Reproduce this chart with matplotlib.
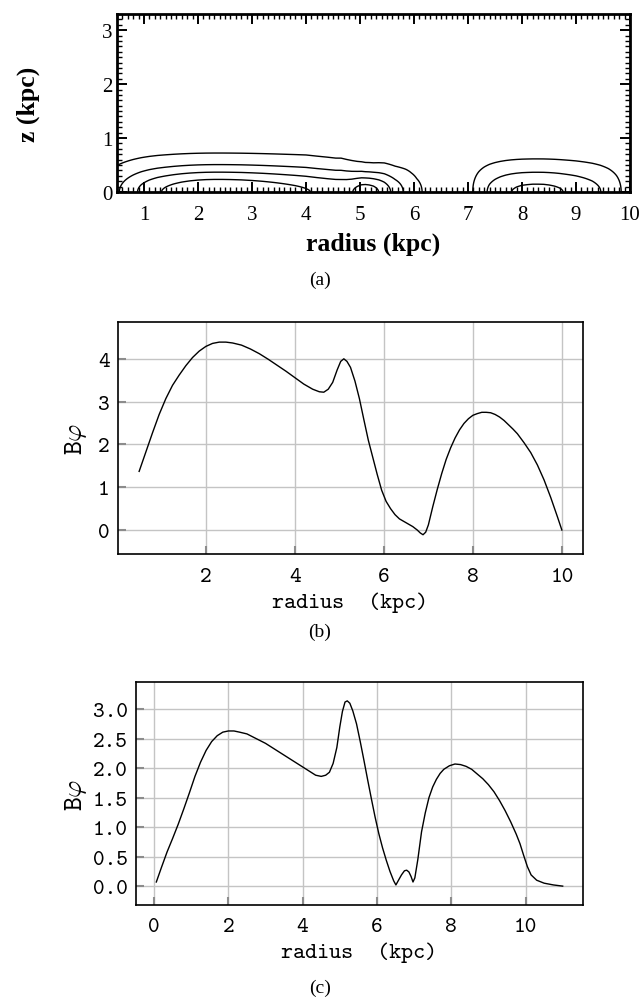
import numpy as np
import matplotlib
matplotlib.use("Agg")
import matplotlib.pyplot as plt
from matplotlib.ticker import MultipleLocator

plt.rcParams["mathtext.fontset"] = "cm"
plt.rcParams["axes.unicode_minus"] = False

# Azimuthal field profile Bphi(r) for the first model (panel b)
r_b = [0.50, 0.65, 0.80, 0.95, 1.10, 1.25, 1.40, 1.55, 1.70, 1.85,
       2.00, 2.15, 2.30, 2.45, 2.60, 2.80, 3.00, 3.20, 3.40, 3.60,
       3.80, 4.00, 4.20, 4.40, 4.55, 4.65, 4.75, 4.85, 4.95, 5.03,
       5.10, 5.17, 5.25, 5.35, 5.45, 5.55, 5.65, 5.75, 5.85, 5.95,
       6.05, 6.15, 6.25, 6.35, 6.45, 6.55, 6.65, 6.75, 6.82, 6.88,
       6.94, 7.00, 7.10, 7.20, 7.30, 7.40, 7.50, 7.60, 7.70, 7.80,
       7.90, 8.00, 8.10, 8.20, 8.30, 8.40, 8.50, 8.60, 8.70, 8.80,
       8.90, 9.00, 9.15, 9.30, 9.45, 9.60, 9.75, 9.90, 10.0]
b_b = [1.37, 1.82, 2.27, 2.70, 3.07, 3.38, 3.62, 3.84, 4.03, 4.18,
       4.29, 4.36, 4.39, 4.39, 4.37, 4.32, 4.23, 4.12, 3.99, 3.85,
       3.71, 3.56, 3.41, 3.29, 3.23, 3.22, 3.29, 3.45, 3.74, 3.94,
       4.00, 3.94, 3.80, 3.48, 3.07, 2.58, 2.10, 1.70, 1.30, 0.93,
       0.67, 0.50, 0.36, 0.26, 0.20, 0.14, 0.08, 0.00, -0.07, -0.11,
       -0.05, 0.12, 0.55, 0.95, 1.32, 1.65, 1.92, 2.15, 2.34, 2.49,
       2.60, 2.68, 2.72, 2.75, 2.75, 2.74, 2.70, 2.64, 2.56, 2.46,
       2.36, 2.25, 2.04, 1.81, 1.52, 1.17, 0.76, 0.31, 0.00]

# Vertical scale height of the field at each radius (kpc)
h_b = [0.49, 0.49, 0.49, 0.49, 0.49, 0.49, 0.49, 0.49, 0.49, 0.49,
       0.49, 0.49, 0.49, 0.49, 0.49, 0.49, 0.49, 0.49, 0.49, 0.49,
       0.49, 0.49, 0.48, 0.47, 0.46, 0.46, 0.44, 0.42, 0.40, 0.39,
       0.38, 0.38, 0.38, 0.39, 0.40, 0.40, 0.40, 0.41, 0.43, 0.45,
       0.46, 0.47, 0.47, 0.47, 0.47, 0.47, 0.47, 0.47, 0.47, 0.47,
       0.47, 0.47, 0.47, 0.47, 0.47, 0.47, 0.47, 0.47, 0.47, 0.47,
       0.47, 0.47, 0.47, 0.47, 0.47, 0.47, 0.47, 0.47, 0.47, 0.47,
       0.47, 0.47, 0.47, 0.47, 0.47, 0.47, 0.47, 0.47, 0.47]

contour_levels = [0.5, 1.5, 2.5, 3.5]

# Azimuthal field profile Bphi(r) for the second model (panel c)
r_c = [0.06, 0.20, 0.35, 0.50, 0.65, 0.80, 0.95, 1.10, 1.25, 1.40,
       1.55, 1.70, 1.85, 2.00, 2.15, 2.30, 2.50, 2.75, 3.00, 3.25,
       3.50, 3.75, 4.00, 4.20, 4.35, 4.50, 4.62, 4.72, 4.82, 4.92,
       5.00, 5.07, 5.14, 5.20, 5.27, 5.35, 5.45, 5.55, 5.65, 5.75,
       5.85, 5.95, 6.05, 6.15, 6.25, 6.35, 6.45, 6.51, 6.58, 6.66,
       6.74, 6.80, 6.86, 6.92, 6.97, 7.02, 7.10, 7.20, 7.30, 7.40,
       7.50, 7.60, 7.70, 7.80, 7.95, 8.10, 8.25, 8.40, 8.55, 8.70,
       8.85, 9.00, 9.15, 9.30, 9.45, 9.60, 9.75, 9.85, 9.95, 10.05,
       10.15, 10.30, 10.50, 10.75, 11.0]
b_c = [0.07, 0.32, 0.58, 0.81, 1.05, 1.31, 1.58, 1.86, 2.10, 2.30,
       2.45, 2.55, 2.61, 2.63, 2.63, 2.61, 2.58, 2.50, 2.42, 2.32,
       2.22, 2.12, 2.02, 1.94, 1.88, 1.86, 1.88, 1.93, 2.08, 2.35,
       2.70, 2.96, 3.12, 3.14, 3.10, 2.97, 2.75, 2.45, 2.13, 1.80,
       1.48, 1.17, 0.89, 0.65, 0.44, 0.25, 0.09, 0.02, 0.10, 0.19,
       0.26, 0.27, 0.24, 0.16, 0.07, 0.14, 0.45, 0.92, 1.24, 1.50,
       1.68, 1.81, 1.91, 1.98, 2.04, 2.07, 2.06, 2.03, 1.98, 1.90,
       1.82, 1.72, 1.60, 1.45, 1.28, 1.09, 0.88, 0.72, 0.52, 0.33,
       0.19, 0.10, 0.05, 0.02, 0.00]

xticks_a = [1, 2, 3, 4, 5, 6, 7, 8, 9, 10]
yticks_a = [0, 1, 2, 3]
xticks_b = [2, 4, 6, 8, 10]
yticks_b = [0, 1, 2, 3, 4]
xticks_c = [0, 2, 4, 6, 8, 10]
yticks_c = [0.0, 0.5, 1.0, 1.5, 2.0, 2.5, 3.0]

W, H = 640, 1003
fig = plt.figure(figsize=(W / 100, H / 100), dpi=100)


def box(left, top, right, bottom):
    return [left / W, 1 - bottom / H, (right - left) / W, (bottom - top) / H]


SERIF = "Liberation Serif"
TT = "cmtt10"

# ---------------- (a) meridional contours ----------------
axA = fig.add_axes(box(117, 15, 630, 193))
r_arr = np.array(r_b)
z_arr = np.linspace(0.0, 3.3, 331)
field = np.array(b_b)[None, :] * np.exp(-(z_arr[:, None] / np.array(h_b)[None, :]) ** 2)
axA.contour(r_arr, z_arr, field, levels=contour_levels, colors="black",
            linewidths=1.0)
axA.set_xlim(0.5, 10)
axA.set_ylim(0, 3.3)
axA.set_xticks(xticks_a)
axA.set_yticks(yticks_a)
axA.xaxis.set_minor_locator(MultipleLocator(0.1))
axA.yaxis.set_minor_locator(MultipleLocator(0.1))
axA.tick_params(which="both", direction="in", top=True, right=True)
axA.tick_params(which="major", length=7, width=1.4)
axA.tick_params(axis="x", which="major", pad=9)
axA.tick_params(axis="y", which="major", pad=3)
axA.tick_params(which="minor", length=3.5, width=1.0)
for lab in axA.get_xticklabels() + axA.get_yticklabels():
    lab.set_fontfamily(SERIF)
    lab.set_fontsize(15)
for sp in axA.spines.values():
    sp.set_linewidth(2.0)
axA.set_xlabel("radius (kpc)", fontfamily=SERIF, fontweight="bold",
               fontsize=18.5, va="center")
axA.xaxis.set_label_coords(0.5, (193 - 244) / 178)
axA.set_ylabel("z (kpc)", fontfamily=SERIF, fontweight="bold",
               fontsize=18.5, va="center")
axA.yaxis.set_label_coords((28 - 117) / 513, 0.5)
fig.text(0.5, 1 - 280 / H, "(a)", ha="center", va="center",
         fontfamily=SERIF, fontsize=14)


def style_profile(ax, xticks, yticks, fmt):
    ax.set_xticks(xticks)
    ax.set_yticks(yticks)
    ax.set_yticklabels([fmt.format(v) for v in yticks])
    ax.grid(True, color="#c4c4c4", linewidth=1.0)
    ax.set_axisbelow(True)
    ax.tick_params(direction="in", length=6, width=1.5, color="#8c8c8c",
                   labelsize=16)
    ax.tick_params(axis="x", pad=9)
    ax.tick_params(axis="y", pad=6)
    for lab in ax.get_xticklabels() + ax.get_yticklabels():
        lab.set_fontfamily(TT)
    for sp in ax.spines.values():
        sp.set_linewidth(1.2)


# ---------------- (b) Bphi profile, model 1 ----------------
axB = fig.add_axes(box(118, 323, 583, 555))
axB.plot(r_b, b_b, color="black", linewidth=1.0)
axB.set_ylim(-0.56, 4.86)
style_profile(axB, xticks_b, yticks_b, "{:.0f}")
axB.set_xlabel("radius  (kpc)", fontfamily=TT, fontsize=16.5, va="center")
axB.xaxis.set_label_coords(0.5, (555 - 603) / 232)
axB.set_ylabel(r"B$\varphi$", fontfamily=TT, fontsize=19, va="center")
axB.yaxis.set_label_coords((76 - 118) / 465, 0.5)
fig.text(0.5, 1 - 632 / H, "(b)", ha="center", va="center",
         fontfamily=SERIF, fontsize=14)

# ---------------- (c) Bphi profile, model 2 ----------------
axC = fig.add_axes(box(136, 683, 583, 906))
axC.plot(r_c, b_c, color="black", linewidth=1.0)
axC.set_ylim(-0.32, 3.46)
style_profile(axC, xticks_c, yticks_c, "{:.1f}")
axC.set_xlabel("radius  (kpc)", fontfamily=TT, fontsize=16.5, va="center")
axC.xaxis.set_label_coords(0.5, (906 - 953) / 223)
axC.set_ylabel(r"B$\varphi$", fontfamily=TT, fontsize=19, va="center")
axC.yaxis.set_label_coords((76 - 136) / 447, 0.5)
fig.text(0.5, 1 - 988 / H, "(c)", ha="center", va="center",
         fontfamily=SERIF, fontsize=14)

fig.savefig("out.png", dpi=100)
